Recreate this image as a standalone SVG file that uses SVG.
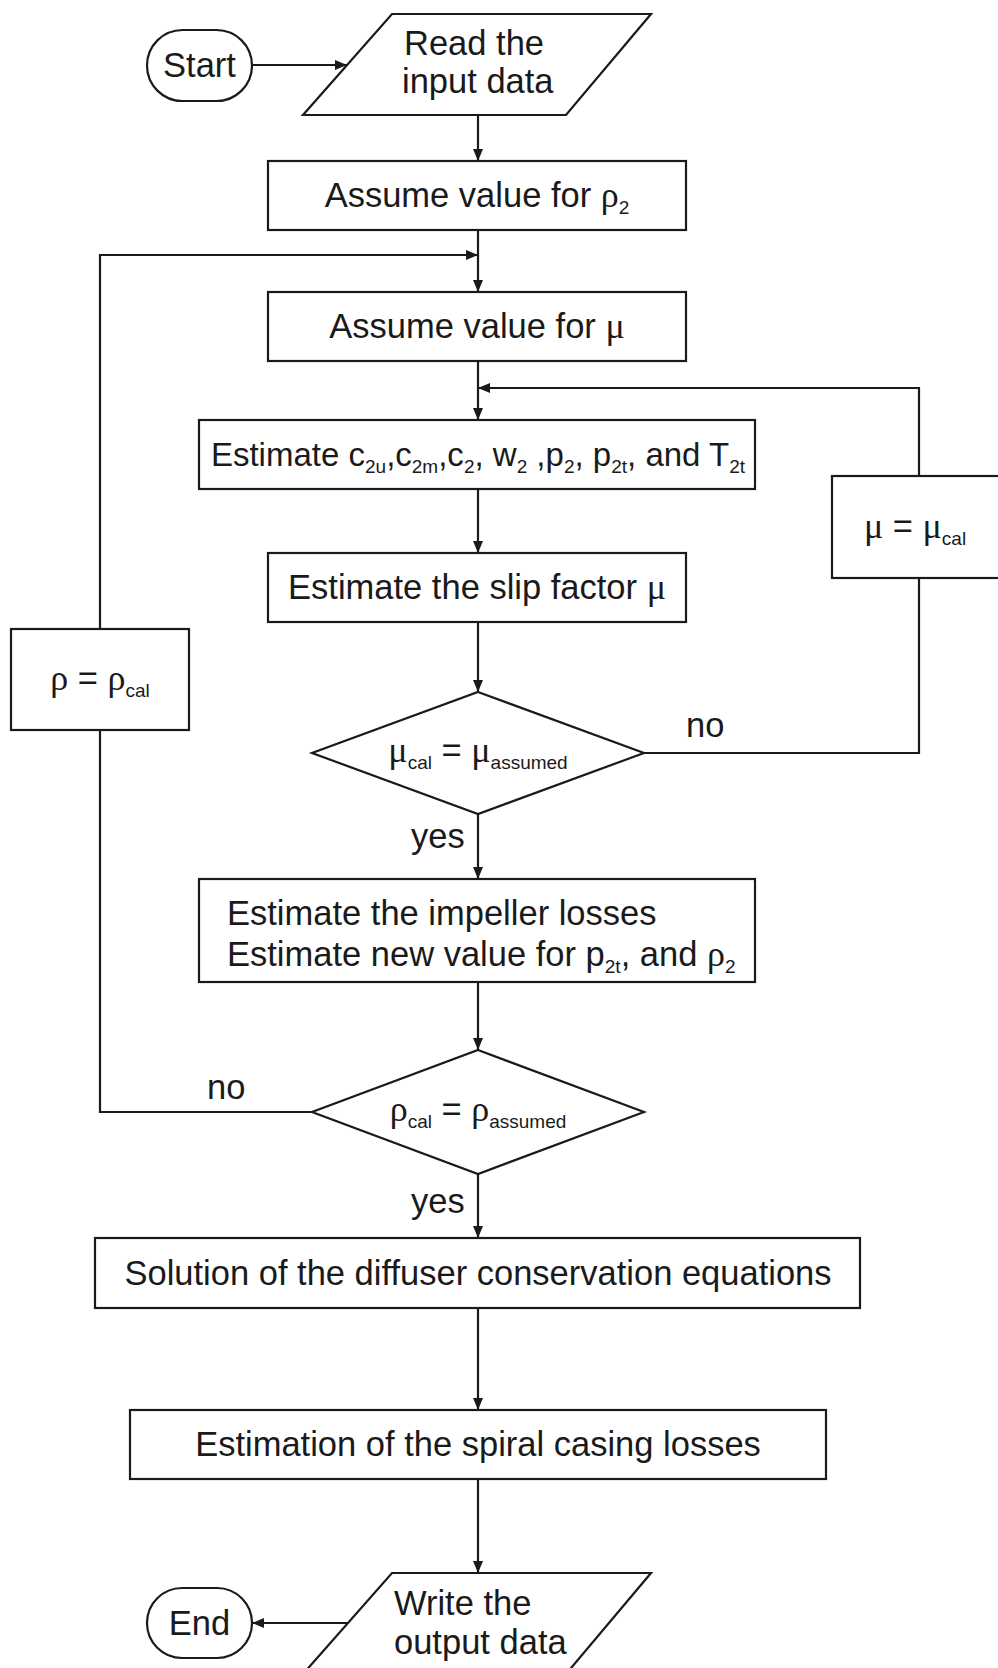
<svg xmlns="http://www.w3.org/2000/svg" width="998" height="1668" viewBox="0 0 998 1668">
<defs>
<marker id="ah" viewBox="0 0 12 10" refX="12" refY="5" markerWidth="12" markerHeight="10" markerUnits="userSpaceOnUse" orient="auto">
<path d="M0,0 L12,5 L0,10 z" fill="#1a1a1a"/>
</marker>
<style>
.s{fill:#fff;stroke:#1a1a1a;stroke-width:2.2}
.c{fill:none;stroke:#1a1a1a;stroke-width:2.2}
.t{font-family:"Liberation Sans",Arial,sans-serif;font-size:34.5px;fill:#1a1a1a}
.e{font-size:33px}
.m{text-anchor:middle}
.g{font-family:"Liberation Serif","DejaVu Serif",serif;font-size:36px}
.sb{font-size:19px}
</style>
</defs>
<rect width="998" height="1668" fill="#fff"/>
<g id="connectors">
<line class="c" x1="252" y1="65" x2="347" y2="65" marker-end="url(#ah)"/>
<line class="c" x1="478" y1="115" x2="478" y2="161" marker-end="url(#ah)"/>
<line class="c" x1="478" y1="230" x2="478" y2="292" marker-end="url(#ah)"/>
<line class="c" x1="478" y1="361" x2="478" y2="420" marker-end="url(#ah)"/>
<line class="c" x1="478" y1="489" x2="478" y2="553" marker-end="url(#ah)"/>
<line class="c" x1="478" y1="622" x2="478" y2="692" marker-end="url(#ah)"/>
<line class="c" x1="478" y1="814" x2="478" y2="879" marker-end="url(#ah)"/>
<line class="c" x1="478" y1="982" x2="478" y2="1050" marker-end="url(#ah)"/>
<line class="c" x1="478" y1="1174" x2="478" y2="1238" marker-end="url(#ah)"/>
<line class="c" x1="478" y1="1308" x2="478" y2="1410" marker-end="url(#ah)"/>
<line class="c" x1="478" y1="1479" x2="478" y2="1573" marker-end="url(#ah)"/>
<line class="c" x1="348" y1="1623" x2="252" y2="1623" marker-end="url(#ah)"/>
<polyline class="c" points="644,753 919,753 919,578"/>
<polyline class="c" points="919,476 919,388 478,388" marker-end="url(#ah)"/>
<polyline class="c" points="312,1112 100,1112 100,730"/>
<polyline class="c" points="100,629 100,255 478,255" marker-end="url(#ah)"/>
<text class="t" x="686" y="737">no</text>
<text class="t" x="411" y="848">yes</text>
<text class="t" x="207" y="1099">no</text>
<text class="t" x="411" y="1213">yes</text>
</g>
<g id="start">
<rect class="s" x="147" y="30" width="105" height="71" rx="35.5"/>
<text class="t m" x="199.5" y="77">Start</text>
</g>
<g id="read">
<polygon class="s" points="392,14 651,14 566,115 303,115"/>
<text class="t" x="404" y="55">Read the</text>
<text class="t" x="402" y="93">input data</text>
</g>
<g id="rho2">
<rect class="s" x="268" y="161" width="418" height="69"/>
<text class="t m" x="477" y="207">Assume value for <tspan class="g">ρ</tspan><tspan class="sb" dy="7">2</tspan></text>
</g>
<g id="mu">
<rect class="s" x="268" y="292" width="418" height="69"/>
<text class="t m" x="477" y="338">Assume value for <tspan class="g">μ</tspan></text>
</g>
<g id="estimate">
<rect class="s" x="199" y="420" width="556" height="69"/>
<text class="t e m" x="478" y="466">Estimate c<tspan class="sb" dy="7">2u</tspan><tspan dy="-7">,c</tspan><tspan class="sb" dy="7">2m</tspan><tspan dy="-7">,c</tspan><tspan class="sb" dy="7">2</tspan><tspan dy="-7">, w</tspan><tspan class="sb" dy="7">2</tspan><tspan dy="-7"> ,p</tspan><tspan class="sb" dy="7">2</tspan><tspan dy="-7">, p</tspan><tspan class="sb" dy="7">2t</tspan><tspan dy="-7">, and T</tspan><tspan class="sb" dy="7">2t</tspan></text>
</g>
<g id="slip">
<rect class="s" x="268" y="553" width="418" height="69"/>
<text class="t m" x="477" y="599">Estimate the slip factor <tspan class="g">μ</tspan></text>
</g>
<g id="dec-mu">
<polygon class="s" points="478,692 644,753 478,814 312,753"/>
<text class="t m" x="478" y="762"><tspan class="g">μ</tspan><tspan class="sb" dy="7">cal</tspan><tspan dy="-7"> = </tspan><tspan class="g">μ</tspan><tspan class="sb" dy="7">assumed</tspan></text>
</g>
<g id="mu-cal">
<rect class="s" x="832" y="476" width="170" height="102"/>
<text class="t m" x="915" y="538"><tspan class="g">μ</tspan> = <tspan class="g">μ</tspan><tspan class="sb" dy="7">cal</tspan></text>
</g>
<g id="losses">
<rect class="s" x="199" y="879" width="556" height="103"/>
<text class="t" x="227" y="925">Estimate the impeller losses</text>
<text class="t" x="227" y="966">Estimate new value for p<tspan class="sb" dy="7">2t</tspan><tspan dy="-7">, and </tspan><tspan class="g">ρ</tspan><tspan class="sb" dy="7">2</tspan></text>
</g>
<g id="dec-rho">
<polygon class="s" points="478,1050 644,1112 478,1174 312,1112"/>
<text class="t m" x="478" y="1121"><tspan class="g">ρ</tspan><tspan class="sb" dy="7">cal</tspan><tspan dy="-7"> = </tspan><tspan class="g">ρ</tspan><tspan class="sb" dy="7">assumed</tspan></text>
</g>
<g id="rho-cal">
<rect class="s" x="11" y="629" width="178" height="101"/>
<text class="t m" x="100" y="690"><tspan class="g">ρ</tspan> = <tspan class="g">ρ</tspan><tspan class="sb" dy="7">cal</tspan></text>
</g>
<g id="diffuser">
<rect class="s" x="95" y="1238" width="765" height="70"/>
<text class="t m" x="478" y="1285">Solution of the diffuser conservation equations</text>
</g>
<g id="spiral">
<rect class="s" x="130" y="1410" width="696" height="69"/>
<text class="t m" x="478" y="1456">Estimation of the spiral casing losses</text>
</g>
<g id="write">
<polygon class="s" points="392,1573 651,1573 566,1674 303,1674"/>
<text class="t" x="394" y="1615">Write the</text>
<text class="t" x="394" y="1654">output data</text>
</g>
<g id="end">
<rect class="s" x="147" y="1588" width="105" height="70" rx="35"/>
<text class="t m" x="199.5" y="1635">End</text>
</g>
</svg>
